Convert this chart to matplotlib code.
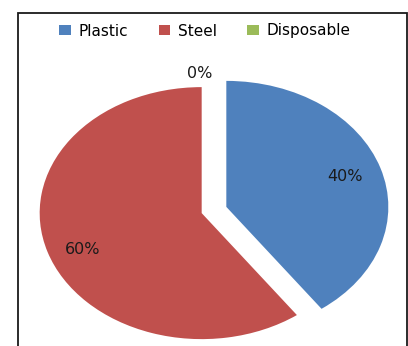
import numpy as np
import matplotlib
matplotlib.use("Agg")
import matplotlib.pyplot as plt
from matplotlib.patches import Rectangle, Patch

categories = ["Plastic", "Steel", "Disposable"]
values = [40, 60, 0]
colors = ["#4F81BD", "#C0504D", "#9BBB59"]
explode = [0.08, 0.08, 0.0]

W, H = 408, 346
fig = plt.figure(figsize=(W / 100, H / 100), dpi=100)
fig.patch.set_facecolor("white")

# chart-area frame
fig.patches.append(Rectangle((18 / W, -0.05), (407 - 18) / W, 1.05 - 13 / H,
                             transform=fig.transFigure, fill=False,
                             edgecolor="#1a1a1a", linewidth=1.3))

# pie drawn in an axes that is wider than tall -> elliptical pie
cx, cy, rx, ry = 214, 210, 162, 126
ax = fig.add_axes([(cx - rx) / W, 1 - (cy + ry) / H, 2 * rx / W, 2 * ry / H])
ax.axis("off")

wedges, _ = ax.pie(values, colors=colors, explode=explode, startangle=90,
                   counterclock=False, radius=1.0,
                   wedgeprops=dict(linewidth=0))
ax.set_xlim(-1, 1)
ax.set_ylim(-1, 1)
ax.set_aspect("auto")

# percentage labels
total = sum(values)
start = 90.0
for v, e in zip(values, explode):
    span = 360.0 * v / total
    mid = np.deg2rad(start - span / 2)
    dist = 0.77 if v > 0 else 1.08
    x = (dist + e) * np.cos(mid)
    y = (dist + e) * np.sin(mid)
    if v == 0:
        x -= 0.09
    elif v > 50:
        y -= 0.05
    ax.text(x, y, f"{v / total * 100:.0f}%", ha="center", va="center",
            fontsize=11.5, color="#1a1a1a")
    start -= span

handles = [Patch(facecolor=c, edgecolor="none") for c in colors]
fig.legend(handles, categories, loc="center", bbox_to_anchor=(205 / W, 1 - 31 / H),
           ncol=3, frameon=False, fontsize=11, handlelength=0.75, handleheight=0.6,
           handletextpad=0.5, columnspacing=2.0, borderpad=0)

fig.savefig("out.png", dpi=100)
